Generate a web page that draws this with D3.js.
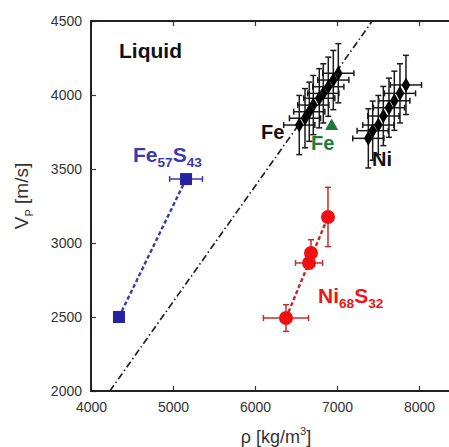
<!DOCTYPE html>
<html>
<head>
<meta charset="utf-8">
<script src="https://cdn.jsdelivr.net/npm/d3@7"></script>
<style>
  body { margin: 0; background: #fff; }
  text { font-family: "Liberation Sans", Arial, sans-serif; }
</style>
</head>
<body>
<svg id="chart"></svg>
<script>
var width = 449;
var height = 447;
var plotLeft = 91, plotTop = 21, plotBottom = 391, plotRight = 460;

// data
var feRho = [6540, 6610, 6662, 6711, 6784, 6833, 6894, 6955, 7016];
var feVp = [3797, 3843, 3887, 3932, 3978, 4011, 4056, 4101, 4147];
var niRho = [7382, 7435, 7504, 7565, 7634, 7699, 7768, 7841];
var niVp = [3707, 3759, 3797, 3858, 3914, 3961, 4011, 4068];
var errRho = 190;
var errVp = 200;
var feRefRho = [6935];
var feRefVp = [3790];
var feSRho = [4341, 5159];
var feSVp = [2500, 3432];
var feSErrRho = [0, 200];
var niSRho = [6890, 6683, 6659, 6378];
var niSVp = [3176, 2932, 2865, 2493];
var niSErrRho = [0, 0, 165, 275];
var niSErrVp = [200, 90, 0, 90];
var birchRho = [4230, 7430];
var birchVp = [2000, 4500];
var xTicks = [4000, 5000, 6000, 7000, 8000];
var yTicks = [2000, 2500, 3000, 3500, 4000, 4500];

var svg = d3.select('#chart')
  .attr('width', width)
  .attr('height', height);

var x = d3.scaleLinear().domain([4000, 8500]).range([plotLeft, plotRight]);
var y = d3.scaleLinear().domain([2000, 4500]).range([plotBottom, plotTop]);

svg.append('defs').append('clipPath').attr('id', 'clip')
  .append('rect')
  .attr('x', plotLeft).attr('y', plotTop)
  .attr('width', plotRight - plotLeft).attr('height', plotBottom - plotTop);

var plot = svg.append('g').attr('clip-path', 'url(#clip)');

// Birch-like reference line
plot.append('line')
  .attr('x1', x(birchRho[0])).attr('y1', y(birchVp[0]))
  .attr('x2', x(birchRho[1])).attr('y2', y(birchVp[1]))
  .attr('stroke', '#222')
  .attr('stroke-width', 1.7)
  .attr('stroke-dasharray', '7,3,1.5,3');

function errorBars(g, pts, color, w) {
  var cap = 3;
  pts.forEach(function(p) {
    if (p.ey > 0) {
      g.append('line').attr('x1', x(p.x)).attr('x2', x(p.x))
        .attr('y1', y(p.y - p.ey)).attr('y2', y(p.y + p.ey));
      g.append('line').attr('x1', x(p.x) - cap).attr('x2', x(p.x) + cap)
        .attr('y1', y(p.y - p.ey)).attr('y2', y(p.y - p.ey));
      g.append('line').attr('x1', x(p.x) - cap).attr('x2', x(p.x) + cap)
        .attr('y1', y(p.y + p.ey)).attr('y2', y(p.y + p.ey));
    }
    if (p.ex > 0) {
      g.append('line').attr('y1', y(p.y)).attr('y2', y(p.y))
        .attr('x1', x(p.x - p.ex)).attr('x2', x(p.x + p.ex));
      g.append('line').attr('y1', y(p.y) - cap).attr('y2', y(p.y) + cap)
        .attr('x1', x(p.x - p.ex)).attr('x2', x(p.x - p.ex));
      g.append('line').attr('y1', y(p.y) - cap).attr('y2', y(p.y) + cap)
        .attr('x1', x(p.x + p.ex)).attr('x2', x(p.x + p.ex));
    }
  });
  g.attr('stroke', color).attr('stroke-width', w);
}

function pts(rs, vs, ers, evs) {
  return rs.map(function(r, i) {
    return {
      x: r, y: vs[i],
      ex: Array.isArray(ers) ? ers[i] : ers,
      ey: Array.isArray(evs) ? evs[i] : evs
    };
  });
}

var fePts = pts(feRho, feVp, errRho, errVp);
var niPts = pts(niRho, niVp, errRho, errVp);
var feSPts = pts(feSRho, feSVp, feSErrRho, 0);
var niSPts = pts(niSRho, niSVp, niSErrRho, niSErrVp);

// pure Fe and Ni
errorBars(plot.append('g'), fePts, '#1a1a1a', 1.5);
errorBars(plot.append('g'), niPts, '#1a1a1a', 1.5);

var diamond = d3.symbol().type(d3.symbolDiamond).size(65);
plot.append('g').selectAll('path')
  .data(fePts.concat(niPts))
  .enter().append('path')
    .attr('d', diamond)
    .attr('transform', function(d) { return 'translate(' + x(d.x) + ',' + y(d.y) + ')'; })
    .attr('fill', '#000');

// Fe reference triangle
plot.append('g').selectAll('path')
  .data(feRefRho)
  .enter().append('path')
    .attr('d', d3.symbol().type(d3.symbolTriangle).size(75))
    .attr('transform', function(d, i) { return 'translate(' + x(d) + ',' + y(feRefVp[i]) + ')'; })
    .attr('fill', '#1e7b3a');

// Fe57S43
plot.append('path')
  .datum(feSPts)
  .attr('d', d3.line().x(function(d) { return x(d.x); }).y(function(d) { return y(d.y); }))
  .attr('fill', 'none')
  .attr('stroke', '#3a3ab0')
  .attr('stroke-width', 2.4)
  .attr('stroke-dasharray', '4,2.5');
errorBars(plot.append('g'), feSPts, '#3a3ab0', 1.5);
plot.append('g').selectAll('rect')
  .data(feSPts)
  .enter().append('rect')
    .attr('x', function(d) { return x(d.x) - 6; })
    .attr('y', function(d) { return y(d.y) - 6; })
    .attr('width', 12).attr('height', 12)
    .attr('fill', '#2424a0');

// Ni68S32
plot.append('line')
  .attr('x1', x(niSRho[3])).attr('y1', y(niSVp[3]))
  .attr('x2', x(niSRho[0])).attr('y2', y(niSVp[0]))
  .attr('stroke', '#c02828')
  .attr('stroke-width', 2.4)
  .attr('stroke-dasharray', '4,2.5');
errorBars(plot.append('g'), niSPts, '#c03030', 1.5);
plot.append('g').selectAll('circle')
  .data(niSPts)
  .enter().append('circle')
    .attr('cx', function(d) { return x(d.x); })
    .attr('cy', function(d) { return y(d.y); })
    .attr('r', 7)
    .attr('fill', '#f01010');

// axes
var xAxis = d3.axisBottom(x).tickValues(xTicks).tickSize(-5).tickPadding(11).tickFormat(d3.format('d'));
var yAxis = d3.axisLeft(y).tickValues(yTicks).tickSize(-5).tickPadding(9).tickFormat(d3.format('d'));

svg.append('g')
  .attr('transform', 'translate(0,' + plotBottom + ')')
  .call(xAxis);
svg.append('g')
  .attr('transform', 'translate(0,' + plotTop + ')')
  .call(d3.axisTop(x).tickValues(xTicks).tickSize(-5).tickFormat(''));
svg.append('g')
  .attr('transform', 'translate(' + plotLeft + ',0)')
  .call(yAxis);

svg.selectAll('.domain').remove();
svg.selectAll('.tick line').attr('stroke', '#333').attr('stroke-width', 1.2);
svg.selectAll('.tick text').attr('font-size', 14).attr('fill', '#333')
  .style('font-family', '"Liberation Sans", Arial, sans-serif');

svg.append('path')
  .attr('d', 'M' + plotRight + ',' + plotTop + 'H' + plotLeft + 'V' + plotBottom + 'H' + plotRight)
  .attr('fill', 'none')
  .attr('stroke', '#222')
  .attr('stroke-width', 2);

// axis titles
var yt = svg.append('text')
  .attr('transform', 'translate(28,196) rotate(-90)')
  .attr('text-anchor', 'middle')
  .attr('font-size', 19)
  .attr('fill', '#333');
yt.append('tspan').text('V');
yt.append('tspan').attr('font-size', 11).attr('dy', 5).text('P');
yt.append('tspan').attr('dy', -5).text(' [m/s]');

var xt = svg.append('text')
  .attr('x', 276).attr('y', 443)
  .attr('text-anchor', 'middle')
  .attr('font-size', 18)
  .attr('fill', '#333');
xt.append('tspan').text('ρ [kg/m');
xt.append('tspan').attr('font-size', 11).attr('dy', -8).text('3');
xt.append('tspan').attr('dy', 8).text(']');

// labels
function label(tx, ty, parts, color, size) {
  var t = svg.append('text')
    .attr('x', tx).attr('y', ty)
    .attr('font-size', size)
    .attr('font-weight', 'bold')
    .attr('fill', color);
  var shift = 0;
  parts.forEach(function(p) {
    var dy = p.sub ? 5 - shift : -shift;
    shift = p.sub ? 5 : 0;
    t.append('tspan')
      .attr('dy', dy)
      .attr('font-size', p.sub ? size * 0.65 : size)
      .text(p.s);
  });
}

label(119, 58, [{ s: 'Liquid' }], '#111', 21);
label(261, 139, [{ s: 'Fe' }], '#111', 20);
label(372, 166, [{ s: 'Ni' }], '#111', 20);
label(311, 150, [{ s: 'Fe' }], '#1e7b3a', 20);
label(133, 162, [{ s: 'Fe' }, { s: '57', sub: true }, { s: 'S' }, { s: '43', sub: true }], '#3a3ab0', 21);
label(318, 303, [{ s: 'Ni' }, { s: '68', sub: true }, { s: 'S' }, { s: '32', sub: true }], '#ee1515', 21);
</script>
</body>
</html>
